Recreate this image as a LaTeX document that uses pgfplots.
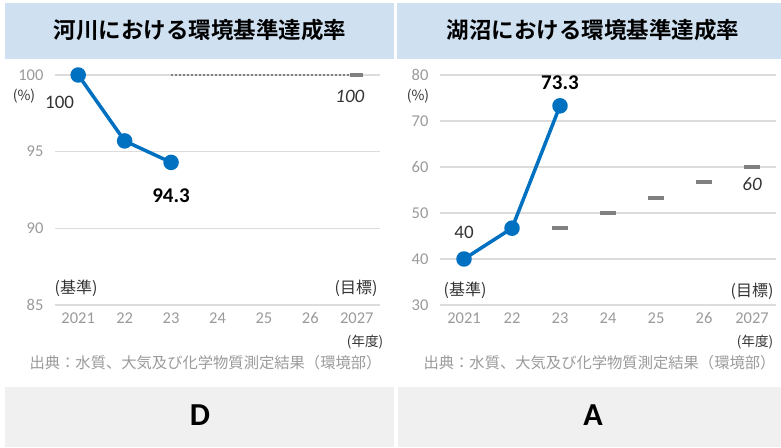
\documentclass[border=0pt]{standalone}
\usepackage{pgfplots}
\pgfplotsset{compat=1.18}
\usepackage{fontspec}
\setmainfont{Carlito}
\newfontfamily\cjk{Noto Sans CJK JP}
\newfontfamily\cjkb{Noto Sans CJK JP Bold}
\definecolor{hdr}{HTML}{CFE0F1}
\definecolor{ftr}{HTML}{F0F0F0}
\definecolor{blu}{HTML}{0070C0}
\definecolor{grd}{HTML}{DCDCDC}
\definecolor{tck}{HTML}{9A9A9A}
\definecolor{tgt}{HTML}{808080}
\definecolor{txt}{HTML}{333333}
\newcommand{\fs}[1]{\fontsize{#1pt}{#1pt}\selectfont}
\pgfplotsset{
  panel/.style={
    scale only axis, clip=false,
    xmin=-0.5, xmax=6.5,
    xtick={0,...,6},
    xticklabels={2021,22,23,24,25,26,2027},
    ymajorgrids, major grid style={grd, line width=1.3pt},
    tick style={draw=none},
    x tick label style={font=\fs{16.5}, text=tck, yshift=-4pt},
    y tick label style={font=\fs{16.5}, text=tck, xshift=-8pt},
    axis x line*=bottom, axis y line*=left,
    x axis line style={draw=grd, line width=1.3pt, -},
    y axis line style={draw=none, -},
    /pgf/number format/assume math mode=true,
  },
  act/.style={blu, line width=3.5pt, line join=round, mark=*, mark size=6pt, mark options={fill=blu, draw=none}},
  tg/.style={only marks, mark=-, mark size=8pt, mark options={draw=tgt, line width=4pt}},
}
\begin{document}
\begin{tikzpicture}
\useasboundingbox (0pt,0pt) rectangle (781pt,447pt);
% headers
\fill[hdr] (5pt,444pt) rectangle (394pt,388pt);
\fill[hdr] (397pt,444pt) rectangle (781pt,388pt);
\fill[ftr] (5pt,0pt) rectangle (394pt,60pt);
\fill[ftr] (398pt,0pt) rectangle (781pt,60pt);
\node[font=\cjkb\fs{22.5}] at (200pt,417pt) {河川における環境基準達成率};
\node[font=\cjkb\fs{22.5}] at (593pt,417pt) {湖沼における環境基準達成率};
\node[font=\bfseries\fs{32}] at (200pt,32pt) {D};
\node[font=\bfseries\fs{32}] at (593pt,32pt) {A};

% left panel
\begin{axis}[panel, at={(55pt,142pt)}, anchor=south west, width=325pt, height=230pt,
  ymin=85, ymax=100, ytick={85,90,95,100}]
\addplot[tgt, dash pattern=on 2pt off 2pt, line width=1.8pt] coordinates {(2,100) (6,100)};
\addplot[tg, mark size=6.5pt] coordinates {(6,100)};
\addplot[act] coordinates {(0,100) (1,95.7) (2,94.3)};
\node[font=\fs{19}, text=txt] at (axis cs:-0.4,98.2) {100};
\node[font=\bfseries\fs{21}, text=black] at (axis cs:2,92.1) {94.3};
\node[font=\itshape\fs{19}, text=txt] at (axis cs:5.85,98.6) {100};
\end{axis}
\node[font=\cjk\fs{14}, text=txt] at (24pt,351pt) {(\%)};
\node[font=\cjk\fs{16}, text=txt] at (76pt,159pt) {(基準)};
\node[font=\cjk\fs{16}, text=txt] at (356pt,159pt) {(目標)};
\node[font=\cjk\fs{13.5}, text=txt] at (365pt,105pt) {(年度)};
\node[font=\cjk\fs{15.3}, text=tck, anchor=east] at (385pt,84pt) {出典：水質、大気及び化学物質測定結果（環境部）};

% right panel
\begin{axis}[panel, at={(440pt,142pt)}, anchor=south west, width=336pt, height=230pt,
  ymin=30, ymax=80, ytick={30,40,...,80}]
\addplot[tg] coordinates {(2,46.7) (3,50) (4,53.3) (5,56.7) (6,60)};
\addplot[act] coordinates {(0,40) (1,46.7) (2,73.3)};
\node[font=\fs{19}, text=txt] at (axis cs:0,45.8) {40};
\node[font=\bfseries\fs{21}, text=black] at (axis cs:2,78.4) {73.3};
\node[font=\itshape\fs{19}, text=txt] at (axis cs:6,56.2) {60};
\end{axis}
\node[font=\cjk\fs{14}, text=txt] at (418pt,351pt) {(\%)};
\node[font=\cjk\fs{16}, text=txt] at (465pt,157pt) {(基準)};
\node[font=\cjk\fs{16}, text=txt] at (752pt,156pt) {(目標)};
\node[font=\cjk\fs{13.5}, text=txt] at (755pt,105pt) {(年度)};
\node[font=\cjk\fs{15.3}, text=tck, anchor=east] at (779pt,84pt) {出典：水質、大気及び化学物質測定結果（環境部）};
\end{tikzpicture}
\end{document}
